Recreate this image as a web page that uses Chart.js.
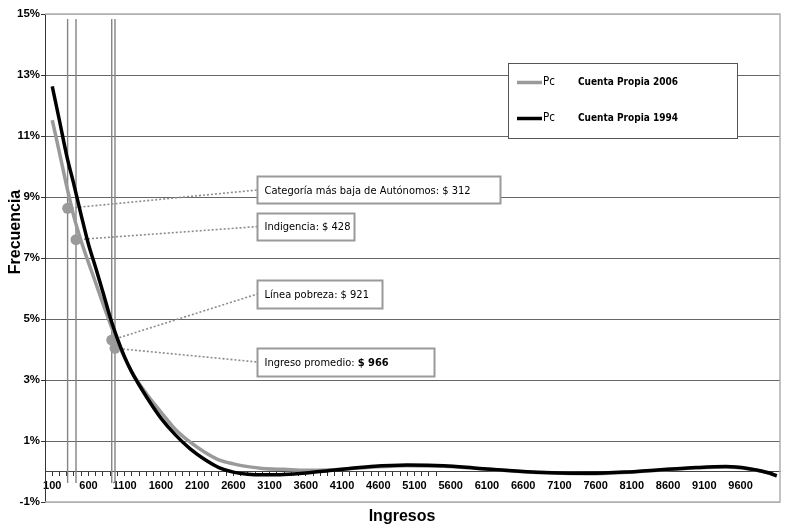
<!DOCTYPE html>
<html>
<head>
<meta charset="utf-8">
<script src="https://cdn.jsdelivr.net/npm/chart.js@4"></script>
<style>
  html, body { margin: 0; padding: 0; background: #fff; }
</style>
</head>
<body>
<canvas id="chart" width="788" height="531"></canvas>
<script>
// Ingresos ($) y frecuencia (%)
const ingresos = [100, 200, 300, 400, 500, 600, 700, 800, 900, 1000, 1100, 1200, 1400, 1600, 1800, 2000,
  2200, 2400, 2600, 2800, 3000, 3300, 3600, 4000, 4500, 5000, 5500, 6000, 6500, 7000, 7500,
  8000, 8500, 9000, 9400, 9700, 10000, 10100];
const cuentaPropia2006 = [11.52, 10.45, 9.35, 8.35, 7.55, 6.85, 6.18, 5.5, 4.85, 4.25, 3.72, 3.25, 2.55, 1.95, 1.38, 0.97,
  0.64, 0.38, 0.25, 0.16, 0.1, 0.07, 0.04, 0.06, 0.14, 0.19, 0.17, 0.09, 0.01, -0.05, -0.07,
  -0.03, 0.05, 0.12, 0.15, 0.09, -0.06, -0.15];
const cuentaPropia1994 = [12.63, 11.5, 10.35, 9.4, 8.4, 7.45, 6.68, 5.88, 5.05, 4.35, 3.75, 3.25, 2.45, 1.75, 1.2, 0.75,
  0.4, 0.13, -0.02, -0.09, -0.11, -0.1, -0.05, 0.05, 0.16, 0.21, 0.19, 0.1, 0.02, -0.04, -0.06,
  -0.02, 0.06, 0.13, 0.16, 0.1, -0.05, -0.14];

const xTickLabels = [100, 600, 1100, 1600, 2100, 2600, 3100, 3600, 4100, 4600, 5100, 5600,
  6100, 6600, 7100, 7600, 8100, 8600, 9100, 9600];
const yTicks = [-1, 1, 3, 5, 7, 9, 11, 13, 15];

// umbrales marcados con lineas verticales y puntos
const umbrales = [312, 428, 921, 966];
const umbralFrecuencia = [8.63, 7.6, 4.31, 4.04];
const umbralTextos = [
  ["Categoría más baja de Autónomos: $ 312", ""],
  ["Indigencia: $ 428", ""],
  ["Línea pobreza: $ 921", ""],
  ["Ingreso promedio: ", "$ 966"]
];
const cajaAnclaX = 2931;
const cajaAnclaY = [9.23, 8.03, 5.82, 3.59];
const cajaAncho = [243, 97, 125, 177];
const cajaAlto = [27, 27, 28, 28];

const seriesNames = ["Cuenta Propia 2006", "Cuenta Propia 1994"];
const GRAY = "#9a9a9a";
const TXT_FONT = "'DejaVu Sans Condensed', 'Liberation Sans', Arial, sans-serif";
const AX_FONT = "'Liberation Sans', Arial, sans-serif";

const toPoints = (ys) => ingresos.map((x, i) => ({ x, y: ys[i] }));

const verticalSets = umbrales.map((u) => ({
  label: "v" + u,
  data: [{ x: u, y: 14.84 }, { x: u, y: -0.38 }],
  borderColor: "#858585",
  borderWidth: 1.4,
  pointRadius: 0,
  order: 5,
}));

const leaderSets = umbrales.map((u, i) => ({
  label: "l" + u,
  data: [{ x: u, y: umbralFrecuencia[i] }, { x: cajaAnclaX, y: cajaAnclaY[i] }],
  borderColor: "#8c8c8c",
  borderWidth: 1.6,
  borderDash: [2, 2],
  pointRadius: 0,
  order: 4,
}));

const decor = {
  id: "decor",
  beforeDatasetsDraw(chart) {
    const { ctx, chartArea: a } = chart;
    ctx.save();
    ctx.strokeStyle = "#b0b0b0";
    ctx.lineWidth = 1.5;
    ctx.beginPath();
    ctx.moveTo(a.left, a.top);
    ctx.lineTo(a.right, a.top);
    ctx.lineTo(a.right, a.bottom);
    ctx.lineTo(a.left, a.bottom);
    ctx.stroke();
    ctx.restore();
  },
  afterDatasetsDraw(chart) {
    const { ctx } = chart;
    const xs = chart.scales.x;
    const ys = chart.scales.y;
    ctx.save();

    // cajas de texto
    umbralTextos.forEach((t, i) => {
      const x0 = Math.round(xs.getPixelForValue(cajaAnclaX)) + 0.5;
      const yc = ys.getPixelForValue(cajaAnclaY[i]);
      const h = cajaAlto[i];
      const top = Math.round(yc - h / 2) + 0.5;
      ctx.fillStyle = "#fff";
      ctx.fillRect(x0, top, cajaAncho[i], h);
      ctx.strokeStyle = "#9a9a9a";
      ctx.lineWidth = 2;
      ctx.strokeRect(x0, top, cajaAncho[i], h);
      ctx.fillStyle = "#000";
      ctx.textBaseline = "middle";
      ctx.textAlign = "left";
      ctx.font = "11px " + TXT_FONT;
      ctx.fillText(t[0], x0 + 7, yc + 1);
      if (t[1]) {
        const w = ctx.measureText(t[0]).width;
        ctx.font = "bold 11px " + TXT_FONT;
        ctx.fillText(t[1], x0 + 7 + w, yc + 1);
      }
    });

    // leyenda
    ctx.fillStyle = "#fff";
    ctx.fillRect(508.5, 63.5, 229, 75);
    ctx.strokeStyle = "#555";
    ctx.lineWidth = 1;
    ctx.strokeRect(508.5, 63.5, 229, 75);
    const legendColors = [GRAY, "#000"];
    seriesNames.forEach((name, i) => {
      const y = 82.5 + i * 36;
      ctx.strokeStyle = legendColors[i];
      ctx.lineWidth = 3.5;
      ctx.beginPath();
      ctx.moveTo(517, y);
      ctx.lineTo(542, y);
      ctx.stroke();
      ctx.fillStyle = "#000";
      ctx.textBaseline = "middle";
      ctx.font = "11.5px " + TXT_FONT;
      ctx.fillText("Pc", 543, y);
      ctx.font = "bold 10px " + TXT_FONT;
      ctx.fillText(name, 578, y);
    });

    // titulos de ejes
    ctx.fillStyle = "#000";
    ctx.font = "bold 16px " + AX_FONT;
    ctx.textAlign = "center";
    ctx.textBaseline = "middle";
    ctx.fillText("Ingresos", 402, 517);
    ctx.translate(16, 232);
    ctx.rotate(-Math.PI / 2);
    ctx.fillText("Frecuencia", 0, 0);
    ctx.restore();
  },
};

new Chart(document.getElementById("chart"), {
  type: "line",
  data: {
    datasets: [
      {
        label: seriesNames[1],
        data: toPoints(cuentaPropia1994),
        borderColor: "#000",
        borderWidth: 3.5,
        pointRadius: 0,
        cubicInterpolationMode: "monotone",
        order: 0,
      },
      {
        label: "umbrales",
        data: umbrales.map((u, i) => ({ x: u, y: umbralFrecuencia[i] })),
        showLine: false,
        pointRadius: 5.5,
        pointBackgroundColor: GRAY,
        pointBorderWidth: 0,
        order: 1,
      },
      {
        label: seriesNames[0],
        data: toPoints(cuentaPropia2006),
        borderColor: GRAY,
        borderWidth: 3.5,
        pointRadius: 0,
        cubicInterpolationMode: "monotone",
        order: 2,
      },
      ...leaderSets,
      ...verticalSets,
    ],
  },
  options: {
    responsive: false,
    animation: false,
    layout: { padding: { left: 0, top: 14, right: 8, bottom: 29 } },
    plugins: {
      legend: { display: false },
      tooltip: { enabled: false },
    },
    scales: {
      x: {
        type: "linear",
        min: 0,
        max: 10145,
        position: { y: 0 },
        afterBuildTicks: (s) => {
          const t = [];
          for (let v = 100; v <= 10100; v += 100) t.push({ value: v });
          s.ticks = t;
        },
        ticks: {
          autoSkip: false,
          maxRotation: 0,
          padding: 4,
          color: "#000",
          font: { family: AX_FONT, size: 11, weight: "bold" },
          callback: (v) => (xTickLabels.includes(v) ? String(v) : ""),
        },
        grid: {
          display: true,
          drawOnChartArea: false,
          drawTicks: true,
          tickLength: 4,
          tickColor: (c) => (c.tick && c.tick.value <= 5400 ? "#333" : "rgba(0,0,0,0)"),
        },
        border: { display: true, color: "#444", width: 1 },
      },
      y: {
        type: "linear",
        min: -1,
        max: 15,
        afterBuildTicks: (s) => {
          s.ticks = yTicks.map((v) => ({ value: v }));
        },
        afterFit: (s) => {
          s.width = 45;
        },
        ticks: {
          padding: 1,
          color: "#000",
          font: { family: AX_FONT, size: 11.5, weight: "bold" },
          callback: (v) => v + "%",
        },
        grid: {
          color: (c) => (c.tick && (c.tick.value === 15 || c.tick.value === -1) ? "#b0b0b0" : "#666"),
          lineWidth: 1,
          tickLength: 4,
          tickColor: "#333",
        },
        border: { display: true, color: "#333", width: 1 },
      },
    },
  },
  plugins: [decor],
});
</script>
</body>
</html>
